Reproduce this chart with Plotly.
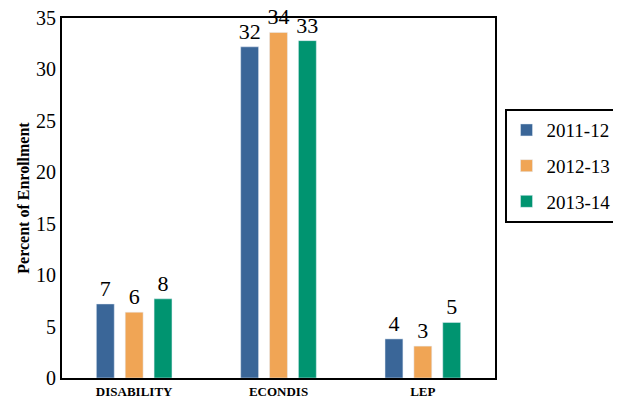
import plotly.graph_objects as go

categories = ["DISABILITY", "ECONDIS", "LEP"]
years = ["2011-12", "2012-13", "2013-14"]
values = {
    "2011-12": [7.2, 32.2, 3.8],
    "2012-13": [6.4, 33.6, 3.1],
    "2013-14": [7.7, 32.8, 5.4],
}
colors = {"2011-12": "#3a6698", "2012-13": "#f0a555", "2013-14": "#009470"}

serif = "Liberation Serif"

fig = go.Figure()
for i, yr in enumerate(years):
    fig.add_trace(go.Bar(
        x=categories,
        y=values[yr],
        name=yr,
        legendgroup=str(i),
        marker_color=colors[yr],
        text=[str(round(v)) for v in values[yr]],
        textposition="outside",
        constraintext="none",
        textfont=dict(family=serif, size=22, color="black"),
        cliponaxis=False,
    ))

# the page puts the figure 8px in from the top-left corner
fig.update_layout(
    width=613, height=390,
    margin=dict(l=54, r=126, t=10, b=20, autoexpand=False),
    plot_bgcolor="white",
    paper_bgcolor="white",
    barmode="group",
    bargap=0.4,
    bargroupgap=0.38,
    font=dict(family=serif, color="black"),
    legend=dict(
        x=1.022, y=0.747, xanchor="left", yanchor="top",
        font=dict(family=serif, size=19),
        bordercolor="black", borderwidth=2,
        tracegroupgap=8,
    ),
)
fig.update_xaxes(
    showline=True, linecolor="black", linewidth=2, mirror=True,
    tickfont=dict(family=serif, size=13, weight="bold"),
    ticks="", range=[-0.5, 2.5], automargin=False,
)
fig.update_yaxes(
    range=[0, 35], dtick=5,
    showline=True, linecolor="black", linewidth=2, mirror=True,
    showgrid=False, zeroline=False, automargin=False,
    ticklabeloverflow="allow",
    tickfont=dict(family=serif, size=20),
    title=dict(text="Percent of Enrollment", font=dict(family=serif, size=16, weight="bold"), standoff=2),
)

fig.write_html("out.html")
